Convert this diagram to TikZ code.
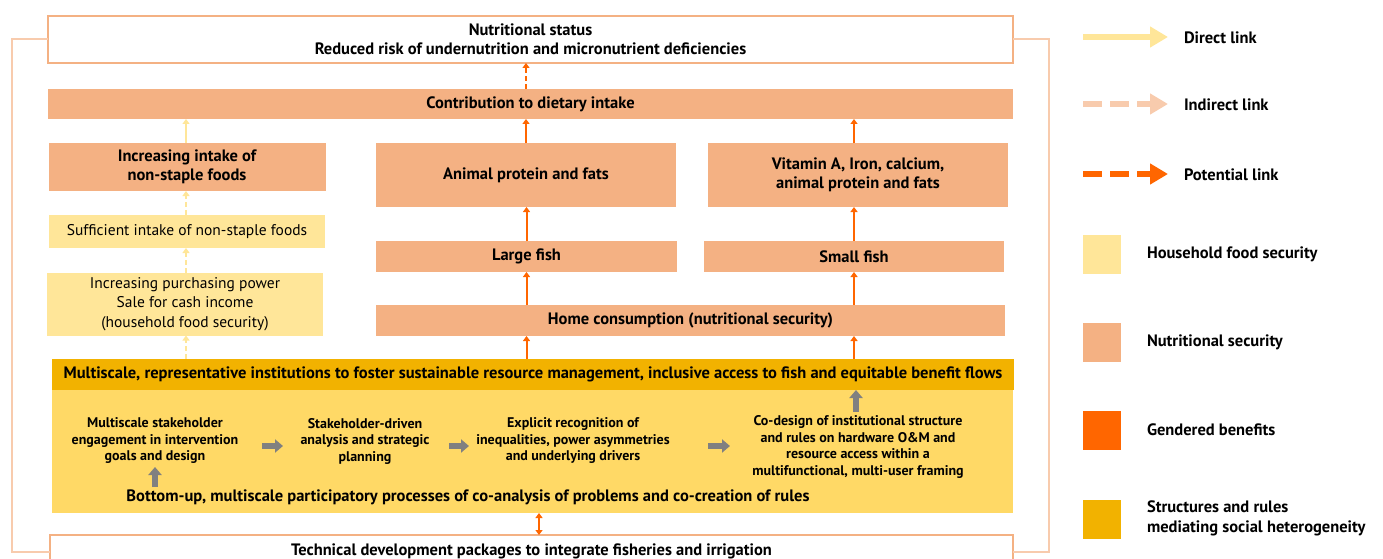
\documentclass[tikz,border=0pt]{standalone}
\usepackage{fontspec}
\setmainfont{PT Sans}
\usetikzlibrary{arrows.meta}
\definecolor{nut}{HTML}{F4B183}
\definecolor{hfs}{HTML}{FFE699}
\definecolor{gen}{HTML}{FF6600}
\definecolor{struct}{HTML}{F2B200}
\definecolor{lightstruct}{HTML}{FFD966}
\definecolor{peach}{HTML}{F8CBAD}
\definecolor{greyarr}{HTML}{808080}
\begin{document}
\begin{tikzpicture}[x=1pt,y=-1pt,
  every node/.style={inner sep=0pt,outer sep=0pt,align=center},
  big/.style={font=\fontsize{16.5}{19}\selectfont\bfseries},
  reg/.style={font=\fontsize{15.5}{19.5}\selectfont},
  small/.style={font=\fontsize{14}{16.5}\selectfont\bfseries},
  nutbox/.style={fill=nut,big},
  hfsbox/.style={fill=hfs,reg},
  genarrow/.style={draw=gen,line width=2pt,-{Triangle[width=7pt,length=5pt]}},
  potarrow/.style={draw=gen,line width=2pt,dash pattern=on 5pt off 3pt,-{Triangle[width=7pt,length=5pt]}},
  dirarrow/.style={draw=hfs,line width=2.5pt,-{Triangle[width=7pt,length=5pt]}},
  indarrow/.style={draw=hfs,line width=2.5pt,dash pattern=on 5pt off 3pt,-{Triangle[width=7pt,length=5pt]}},
  greyarrow/.style={draw=greyarr,line width=6pt,-{Triangle[width=13pt,length=8pt]}},
  looplink/.style={draw=peach,line width=2pt},
  legtext/.style={big,anchor=west,align=left},
  legsq/.style={minimum width=38pt,minimum height=39pt}
]
\useasboundingbox (0,0) rectangle (1383,559);

% bottom outer box
\node[draw=nut,line width=2pt,fill=white,minimum width=963pt,minimum height=34pt,big] (bottom) at (531.5,552) {};
\node[big] (bottomtext) at (531.5,551) {Technical development packages to integrate fisheries and irrigation};

% top box
\node[draw=nut,line width=2pt,fill=white,minimum width=965pt,minimum height=47pt,big] (top) at (530.5,39.5)
  {Nutritional status\\Reduced risk of undernutrition and micronutrient deficiencies};

% loop lines
\draw[looplink] (top.west) -- ++(-36,0) |- (bottom.west);
\draw[looplink] (top.east) -- ++(36,0) |- (bottom.east);

% nutritional boxes
\node[nutbox,minimum width=965pt,minimum height=30pt] (contrib) at (530.5,104) {Contribution to dietary intake};
\node[nutbox,minimum width=277pt,minimum height=48pt] (intake) at (187,167) {Increasing intake of\\non-staple foods};
\node[nutbox,minimum width=300pt,minimum height=64pt] (animal) at (526,175) {Animal protein and fats};
\node[nutbox,minimum width=300pt,minimum height=64pt] (vitamin) at (858,175) {Vitamin A, Iron, calcium,\\animal protein and fats};
\node[nutbox,minimum width=301pt,minimum height=31pt] (large) at (526.5,256.5) {Large fish};
\node[nutbox,minimum width=300pt,minimum height=31pt] (smallfish) at (854,256.5) {Small fish};
\node[nutbox,minimum width=629pt,minimum height=31pt] (home) at (690.5,320.5) {Home consumption (nutritional security)};

% household food security boxes
\node[hfsbox,minimum width=276pt,minimum height=33pt] (suff) at (187,231.5) {Sufficient intake of non-staple foods};
\node[hfsbox,minimum width=276pt,minimum height=63pt] (purch) at (185,304) {Increasing purchasing power\\Sale for cash income\\(household food security)};

% structures
\node[fill=lightstruct,minimum width=961pt,minimum height=123pt] (region) at (532.5,451.5) {};
\node[fill=struct,minimum width=962pt,minimum height=31pt,big] (band) at (533,374.5)
  {Multiscale, representative institutions to foster sustainable resource management, inclusive access to fish and equitable benefit flows};

\node[small] (t1) at (155,441) {Multiscale stakeholder\\engagement in intervention\\goals and design};
\node[small] (t2) at (365,441) {Stakeholder-driven\\analysis and strategic\\planning};
\node[small] (t3) at (573,441) {Explicit recognition of\\inequalities, power asymmetries\\and underlying drivers};
\node[small] (t4) at (858,447) {Co-design of institutional structure\\and rules on hardware O\&M and\\resource access within a\\multifunctional, multi-user framing};
\node[big] (bottomup) at (468,497) {Bottom-up, multiscale participatory processes of co-analysis of problems and co-creation of rules};

% grey arrows
\draw[greyarrow,shorten <=107pt,shorten >=82pt] ([yshift=-5pt]t1.center) -- ([yshift=-5pt]t2.center);
\draw[greyarrow,shorten <=84pt,shorten >=104pt] ([yshift=-5pt]t2.center) -- ([yshift=-5pt]t3.center);
\draw[greyarrow,shorten <=135pt,shorten >=128pt] ([yshift=-5pt]t3.center) -- ([yshift=-5pt]t4.center |- t3.center);
\coordinate (upstart) at (155,487);
\draw[greyarrow] (upstart) -- (155,467);
\draw[greyarrow] (856,412) -- (856,0 |- band.south);

% orange double arrow
\coordinate (dbl) at (539,0);
\draw[draw=gen,line width=2pt,{Triangle[width=7pt,length=5pt]}-{Triangle[width=7pt,length=5pt]}] (dbl |- region.south) -- (dbl |- bottom.north);

% orange columns
\draw[genarrow] (large |- band.north) -- (large |- home.south);
\draw[genarrow] (large |- home.north) -- (large.south);
\draw[genarrow] (large.north) -- (large |- animal.south);
\draw[genarrow] (animal.north) -- (animal |- contrib.south);
\draw[potarrow] (animal |- contrib.north) -- (animal |- top.south);

\draw[genarrow] (smallfish |- band.north) -- (smallfish |- home.south);
\draw[genarrow] (smallfish |- home.north) -- (smallfish.south);
\draw[genarrow] (smallfish.north) -- (smallfish |- vitamin.south);
\draw[genarrow] (smallfish |- vitamin.north) -- (smallfish |- contrib.south);

% yellow column
\coordinate (cy) at (186,0);
\draw[indarrow] (cy |- band.north) -- (cy |- purch.south);
\draw[indarrow] (cy |- purch.north) -- (cy |- suff.south);
\draw[indarrow] (cy |- suff.north) -- (cy |- intake.south);
\draw[dirarrow] (cy |- intake.north) -- (cy |- contrib.south);

% legend
\node[legtext] (ldirect) at (1184,38) {Direct link};
\node[legtext] (lindirect) at (1184,105) {Indirect link};
\node[legtext] (lpotential) at (1184,175) {Potential link};
\coordinate (la) at (1083,37);
\coordinate (lb) at (1083,104);
\coordinate (lc) at (1083,174);
\draw[draw=hfs,line width=6pt,-{Triangle[width=20pt,length=18pt]},shorten >=16pt] (la) -- (la -| ldirect.west);
\draw[draw=peach,line width=6pt,dash pattern=on 19pt off 8pt,-{Triangle[width=20pt,length=18pt]},shorten >=16pt] (lb) -- (lb -| lindirect.west);
\draw[draw=gen,line width=6pt,dash pattern=on 19pt off 8pt,-{Triangle[width=20pt,length=18pt]},shorten >=16pt] (lc) -- (lc -| lpotential.west);

\node[legsq,fill=hfs] (sq1) at (1102,254.5) {};
\node[legsq,fill=nut] (sq2) at (1102,342.5) {};
\node[legsq,fill=gen] (sq3) at (1102,430.5) {};
\node[legsq,fill=struct] (sq4) at (1102,519.5) {};
\node[legtext] (lt1) at (1147,254) {Household food security};
\node[legtext] (lt2) at (1147,342) {Nutritional security};
\node[legtext] (lt3) at (1147,430) {Gendered benefits};
\node[legtext,font=\fontsize{16.5}{20}\selectfont\bfseries] (lt4) at (1147,518) {Structures and rules\\mediating social heterogeneity};
\end{tikzpicture}
\end{document}
